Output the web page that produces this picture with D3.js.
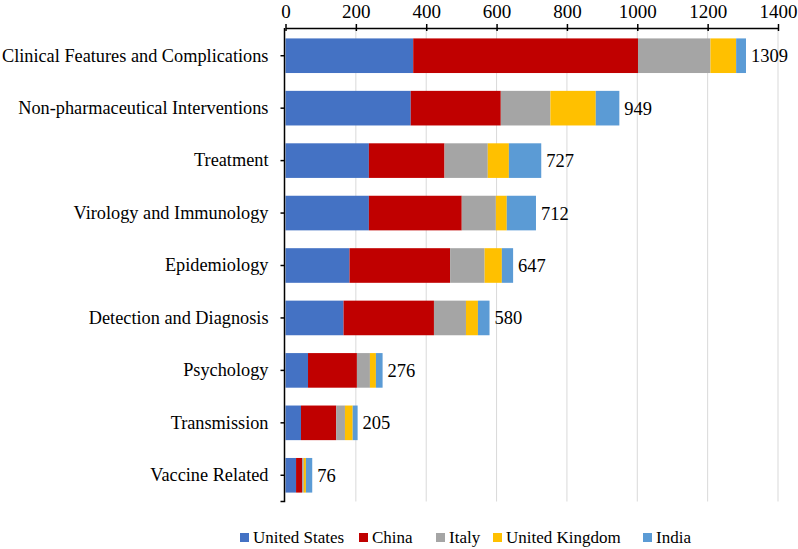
<!DOCTYPE html>
<html><head><meta charset="utf-8">
<script src="https://cdn.jsdelivr.net/npm/d3@7"></script>
<style>body{margin:0;background:#fff}svg{display:block}</style>
</head><body>
<svg id="c" width="798" height="549"></svg>
<script>
const categories = ["Clinical Features and Complications","Non-pharmaceutical Interventions","Treatment","Virology and Immunology","Epidemiology","Detection and Diagnosis","Psychology","Transmission","Vaccine Related"];
const seriesNames = ["United States","China","Italy","United Kingdom","India"];
const unitedStates = [363,356,237,237,182,165,64,44,30];
const china        = [639,256,215,264,286,257,139,100,17];
const italy        = [206,141,123,97,98,91,37,25,5];
const unitedKingdom= [73,129,60,31,49,34,17,22,6];
const india        = [28,67,92,83,32,33,19,14,18];
const totals       = [1309,949,727,712,647,580,276,205,76];
const xTicks       = [0,200,400,600,800,1000,1200,1400];
const colors = ["#4472C4","#C00000","#A5A5A5","#FFC000","#5B9BD5"];
const FONT = "'Liberation Serif', 'Times New Roman', Times, serif";

const seriesVals = [unitedStates, china, italy, unitedKingdom, india];
const rows = categories.map((c,i)=>{const o={cat:c,total:totals[i]};seriesNames.forEach((s,j)=>o[s]=seriesVals[j][i]);return o;});

const svg = d3.select("#c").style("font-family",FONT);
const L=285.5, R=778, T=28, B=501.5;
const x = d3.scaleLinear().domain([0,1400]).range([L,R]);
const y = d3.scaleBand().domain(categories).range([29.5,B]).paddingInner(0.34).paddingOuter(0.17);

svg.append("g").selectAll("line").data(xTicks.slice(1)).join("line")
  .attr("x1",d=>x(d)).attr("x2",d=>x(d)).attr("y1",T).attr("y2",B)
  .attr("stroke","#d9d9d9").attr("stroke-width",1);

const stack = d3.stack().keys(seriesNames)(rows);
svg.append("g").selectAll("g").data(stack).join("g")
  .attr("fill",(d,i)=>colors[i])
  .selectAll("rect").data(d=>d).join("rect")
  .attr("x",d=>x(d[0])).attr("width",d=>x(d[1])-x(d[0]))
  .attr("y",d=>y(d.data.cat)).attr("height",y.bandwidth());

svg.append("g").selectAll("text").data(rows).join("text")
  .attr("x",d=>x(d3.sum(seriesNames,s=>d[s]))+5)
  .attr("y",d=>y(d.cat)+y.bandwidth()/2).attr("dy","0.35em")
  .style("font-family",FONT).attr("font-size",18.5).attr("fill","#000").text(d=>d.total);

const ax = svg.append("g").attr("transform",`translate(0,${T})`)
  .call(d3.axisTop(x).tickValues(xTicks).tickFormat(d3.format("d")).tickSize(4).tickPadding(6).tickSizeOuter(0));
ax.attr("font-family",null).attr("font-size",null);
ax.select(".domain").attr("stroke","#000").attr("stroke-width",1.5);
ax.selectAll(".tick line").attr("stroke","#000").attr("stroke-width",1.5).attr("y2",-4).attr("y1",3);
ax.selectAll(".tick text").style("font-family",FONT).attr("font-size",19).attr("fill","#000");

const ay = svg.append("g").attr("transform",`translate(${L-1},0)`)
  .call(d3.axisLeft(y).tickSize(4).tickPadding(12).tickSizeOuter(4));
ay.attr("font-family",null).attr("font-size",null);
ay.select(".domain").attr("stroke","#000").attr("stroke-width",1.5).attr("fill","none")
  .attr("d",`M-4,${B}H0V${T}`);
ay.selectAll(".tick line").attr("stroke","#000").attr("stroke-width",1.5);
ay.selectAll(".tick text").style("font-family",FONT).attr("font-size",18.3).attr("fill","#000");

const legX = [240,359,436,493,643];
const lg = svg.append("g").selectAll("g").data(seriesNames).join("g")
  .attr("transform",(d,i)=>`translate(${legX[i]},0)`);
lg.append("rect").attr("x",0).attr("y",533).attr("width",9).attr("height",9).attr("fill",(d,i)=>colors[i]);
lg.append("text").attr("x",13).attr("y",543).style("font-family",FONT).attr("font-size",17).attr("fill","#000").text(d=>d);
</script>
</body></html>
